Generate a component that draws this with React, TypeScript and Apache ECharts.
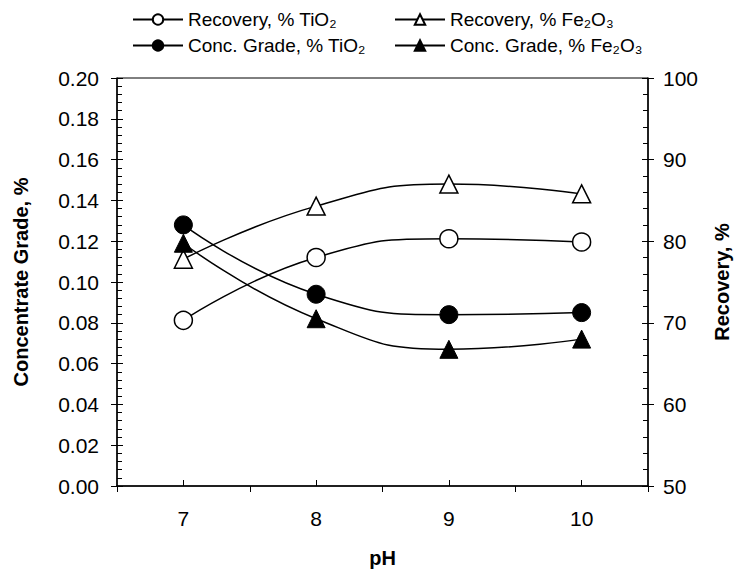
import React, { useEffect, useRef } from "react";
import * as echarts from "echarts";

const pH = [7, 8, 9, 10];
const recoveryTiO2 = [70.3, 78.0, 80.3, 79.9];
const recoveryFe2O3 = [77.8, 84.3, 87.0, 85.8];
const gradeTiO2 = [0.128, 0.094, 0.084, 0.085];
const gradeFe2O3 = [0.119, 0.082, 0.067, 0.072];

const xLabelValues = [7, 8, 9, 10];
const xHalfTicks = [6.5, 7.5, 8.5, 9.5, 10.5];

const names = {
  recTi: "Recovery, % TiO₂",
  recFe: "Recovery, % Fe₂O₃",
  gradeTi: "Conc. Grade, % TiO₂",
  gradeFe: "Conc. Grade, % Fe₂O₃",
};

const FONT = "Liberation Sans, Arial, sans-serif";

export default function App() {
  const ref = useRef<HTMLDivElement>(null);
  useEffect(() => {
    if (!ref.current) return;
    const chart = echarts.init(ref.current, undefined, { renderer: "svg" });
    const pts = (ys: number[]) => pH.map((x, i) => [x, ys[i]]);
    const lineStyle = { color: "#000", width: 1.5 };
    const legendCommon = {
      orient: "vertical" as const,
      top: 5,
      itemWidth: 50,
      itemHeight: 13,
      itemGap: 7,
      textStyle: { fontSize: 19, color: "#000", fontFamily: FONT },
    };
    const mkY = (pos: "left" | "right", min: number, max: number, interval: number, withLabels: boolean, inside: boolean, minor: boolean, margin: number) => ({
      type: "value",
      position: pos,
      min,
      max,
      interval,
      axisLine: { show: withLabels, lineStyle: { color: "#000", width: 1.5 } },
      splitLine: { show: false },
      axisTick: { show: true, inside, length: 6, lineStyle: { color: "#000", width: 1 } },
      minorTick: { show: minor, splitNumber: 5, length: 5, lineStyle: { color: "#000", width: 1 } },
      axisLabel: {
        show: withLabels,
        fontSize: 21,
        color: "#000",
        fontFamily: FONT,
        margin,
        formatter: (v: number) => (max < 1 ? v.toFixed(2) : String(v)),
      },
    });
    chart.setOption({
      animation: false,
      textStyle: { fontFamily: FONT },
      grid: { left: 117, right: 90, top: 78, bottom: 84, show: true, borderColor: "#000", borderWidth: 1 },
      legend: [
        { ...legendCommon, left: 127, data: [names.recTi, names.gradeTi] },
        { ...legendCommon, left: 389, data: [names.recFe, names.gradeFe] },
      ],
      xAxis: [
        {
          type: "value",
          position: "bottom",
          min: 6.5,
          max: 10.5,
          name: "pH",
          nameLocation: "middle",
          nameGap: 62,
          nameTextStyle: { fontSize: 20, fontWeight: "bold", color: "#000", fontFamily: FONT },
          axisLine: { show: true, onZero: false, lineStyle: { color: "#000", width: 1.5 } },
          splitLine: { show: false },
          axisTick: { show: true, inside: false, length: 6, customValues: xHalfTicks, lineStyle: { color: "#000" } },
          axisLabel: { show: true, customValues: xLabelValues, fontSize: 21, color: "#000", fontFamily: FONT, margin: 22 },
        },
        {
          type: "value",
          position: "bottom",
          min: 6.5,
          max: 10.5,
          axisLine: { show: false, onZero: false },
          splitLine: { show: false },
          axisTick: { show: true, inside: true, length: 6, customValues: xLabelValues, lineStyle: { color: "#000" } },
          axisLabel: { show: false },
        },
      ],
      yAxis: [
        {
          ...mkY("left", 0, 0.2, 0.02, true, true, true, 18),
          name: "Concentrate Grade, %",
          nameLocation: "middle",
          nameRotate: 90,
          nameGap: 86,
          nameTextStyle: { fontSize: 20, fontWeight: "bold", color: "#000", fontFamily: FONT },
        },
        mkY("left", 0, 0.2, 0.02, false, false, false, 18),
        {
          ...mkY("right", 50, 100, 10, true, true, true, 15),
          name: "Recovery, %",
          nameLocation: "middle",
          nameRotate: 90,
          nameGap: 64,
          nameTextStyle: { fontSize: 20, fontWeight: "bold", color: "#000", fontFamily: FONT },
        },
        mkY("right", 50, 100, 10, false, false, false, 15),
      ],
      series: [
        {
          name: names.recTi,
          type: "line",
          xAxisIndex: 0,
          yAxisIndex: 2,
          data: pts(recoveryTiO2),
          smooth: true,
          symbol: "circle",
          symbolSize: 18,
          lineStyle,
          itemStyle: { color: "#fff", borderColor: "#000", borderWidth: 1.5 },
          z: 3,
        },
        {
          name: names.recFe,
          type: "line",
          xAxisIndex: 0,
          yAxisIndex: 2,
          data: pts(recoveryFe2O3),
          smooth: true,
          symbol: "triangle",
          symbolSize: 18,
          lineStyle,
          itemStyle: { color: "#fff", borderColor: "#000", borderWidth: 1.5 },
          z: 3,
        },
        {
          name: names.gradeTi,
          type: "line",
          xAxisIndex: 0,
          yAxisIndex: 0,
          data: pts(gradeTiO2),
          smooth: true,
          symbol: "circle",
          symbolSize: 18,
          lineStyle,
          itemStyle: { color: "#000", borderColor: "#000", borderWidth: 1 },
          z: 3,
        },
        {
          name: names.gradeFe,
          type: "line",
          xAxisIndex: 0,
          yAxisIndex: 0,
          data: pts(gradeFe2O3),
          smooth: true,
          symbol: "triangle",
          symbolSize: 18,
          lineStyle,
          itemStyle: { color: "#000", borderColor: "#000", borderWidth: 1 },
          z: 3,
        },
      ],
    });
    return () => chart.dispose();
  }, []);
  return <div ref={ref} style={{ width: 740, height: 573, position: "absolute", left: 0, top: 0, background: "#fff" }} />;
}
